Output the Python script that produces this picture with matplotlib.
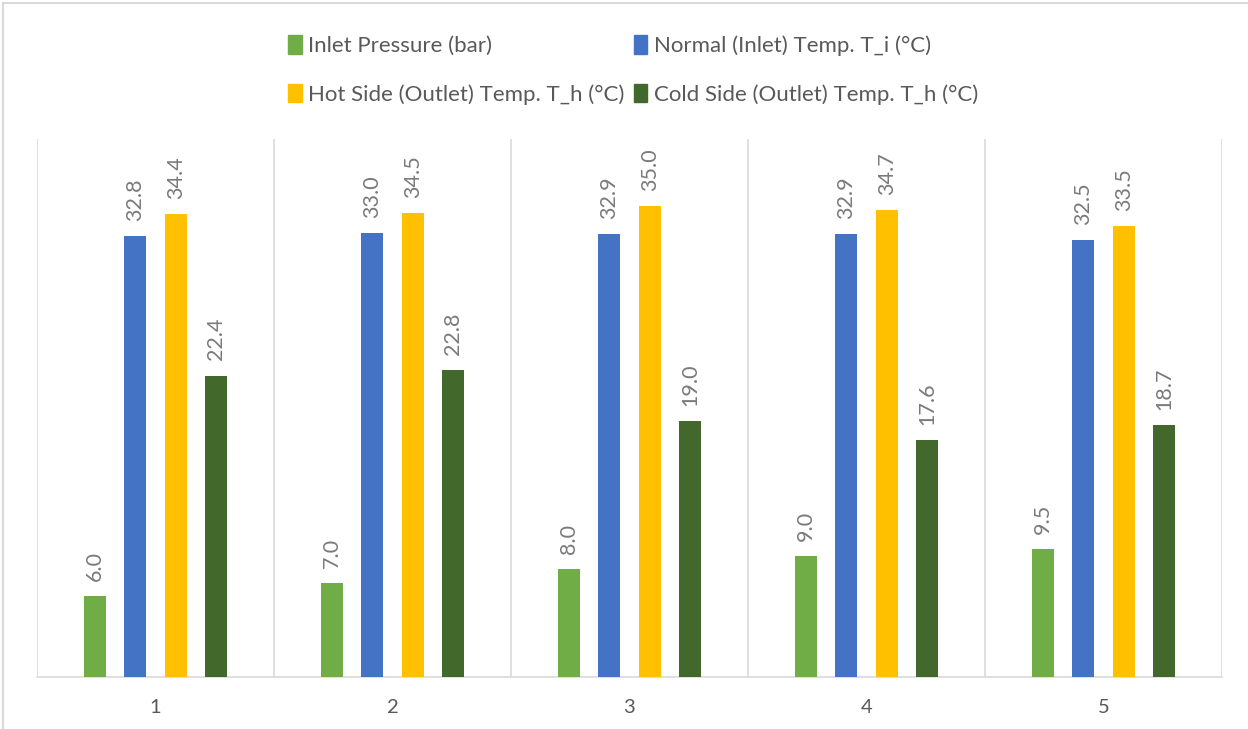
import numpy as np
import matplotlib.pyplot as plt
from matplotlib.lines import Line2D
from matplotlib.patches import Patch

plt.rcParams['font.family'] = ['Lato', 'DejaVu Sans']

categories = ['1', '2', '3', '4', '5']
series_names = ['Inlet Pressure (bar)',
                'Normal (Inlet) Temp. T_i (°C)',
                'Hot Side (Outlet) Temp. T_h (°C)',
                'Cold Side (Outlet) Temp. T_h (°C)']
inlet_pressure = [6.0, 7.0, 8.0, 9.0, 9.5]
normal_temp = [32.8, 33.0, 32.9, 32.9, 32.5]
hot_temp = [34.4, 34.5, 35.0, 34.7, 33.5]
cold_temp = [22.4, 22.8, 19.0, 17.6, 18.7]

colors = ['#70AD47', '#4472C4', '#FFC000', '#43682B']
text_gray = '#595959'
label_gray = '#7A7A7A'
line_gray = '#D9D9D9'

fig = plt.figure(figsize=(12.48, 7.29), dpi=100)
ax = fig.add_axes([37 / 1248, 52 / 729, 1185 / 1248, 538 / 729])

x = np.arange(len(categories))
width = 0.093
step = 0.171
all_series = [inlet_pressure, normal_temp, hot_temp, cold_temp]
for i, (vals, col) in enumerate(zip(all_series, colors)):
    pos = x + (i - 1.5) * step
    bars = ax.bar(pos, vals, width=width, color=col, label=series_names[i], zorder=3)
    for b, v in zip(bars, vals):
        ax.annotate(f'{v:.1f}', (b.get_x() + b.get_width() / 2, v),
                    xytext=(0, 11), textcoords='offset points',
                    rotation=90, ha='center', va='bottom',
                    fontsize=15.5, color=label_gray)

ax.set_xlim(-0.5, len(categories) - 0.5)
ax.set_ylim(0, 40)
ax.set_yticks([])
ax.set_xticks(x)
ax.set_xticklabels(categories, fontsize=14.5, color=text_gray)
ax.tick_params(axis='x', length=0, pad=16)

# category separators
for b in np.arange(-0.5, len(categories), 1.0):
    ax.axvline(b, color=line_gray, lw=1.2, zorder=1)

for side in ['top', 'left', 'right']:
    ax.spines[side].set_visible(False)
ax.spines['bottom'].set_color(line_gray)
ax.spines['bottom'].set_linewidth(1.2)

# outer chart frame
fig.add_artist(Line2D([3 / 1248, 1], [1 - 3 / 729, 1 - 3 / 729],
                      color=line_gray, lw=1.5, transform=fig.transFigure))
fig.add_artist(Line2D([3 / 1248, 3 / 1248], [0, 1 - 3 / 729],
                      color=line_gray, lw=1.5, transform=fig.transFigure))

# legend filled row by row
order = [0, 2, 1, 3]
handles = [Patch(color=colors[k]) for k in order]
labels = [series_names[k] for k in order]
fig.legend(handles, labels, loc='center', ncol=2,
           bbox_to_anchor=(633 / 1248, 1 - 70 / 729),
           frameon=False, fontsize=16, labelcolor=text_gray,
           handlelength=0.6, handleheight=0.9, handletextpad=0.3,
           columnspacing=0.4, labelspacing=1.25)

fig.savefig('out.png', dpi=100)
